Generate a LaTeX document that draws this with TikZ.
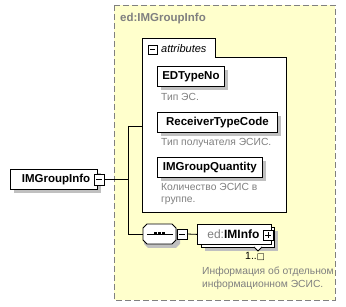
\documentclass[tikz,border=0pt]{standalone}
\usepackage{fontspec}
\setmainfont{Liberation Sans}
\newfontfamily\symfont{DejaVu Sans}
\begin{document}
\definecolor{paneYellow}{RGB}{255,255,204}
\definecolor{frameGray}{RGB}{128,128,128}
\definecolor{shadowGray}{RGB}{192,192,192}
\definecolor{noteGray}{RGB}{128,128,128}
\tikzset{
  elem/.style={draw=black, fill=white, line width=0.8pt, inner sep=0pt, anchor=north west,
    font=\fontsize{11.5}{12}\selectfont\bfseries, align=center},
  note/.style={anchor=north west, inner sep=0pt, text=noteGray,
    font=\fontsize{10.3}{12.5}\selectfont, align=left},
  wire/.style={draw=black, line width=0.8pt},
}
\begin{tikzpicture}[x=1pt,y=-1pt]
\useasboundingbox (0,0) rectangle (346,307);

% complex type pane
\draw[fill=paneYellow, draw=frameGray, line width=0.9pt, dash pattern=on 6pt off 3pt]
  (114,5) rectangle (335,300);
\node[anchor=west, inner sep=0pt, text=frameGray, font=\fontsize{11.5}{12}\selectfont\bfseries]
  (title) at (120,19) {ed:IMGroupInfo};

% attributes group
\draw[wire, fill=white] (142,212) -- (142,38) -- (215,38) -- (215,57) -- (286,57) -- (286,212) -- cycle;
\coordinate (attrL) at (142,126);
\fill[black] (149,46) rectangle (158,55);
\draw[fill=white, line width=0.8pt] (148,45) rectangle (157,54);
\draw[line width=0.9pt] (150,49.5) -- (155,49.5);
\node[anchor=west, inner sep=0pt, font=\fontsize{11}{12}\selectfont\itshape] (attrlbl) at (161,49) {attributes};

% attribute elements
\fill[shadowGray] (161,70) rectangle (228,90);
\node[elem, minimum width=67pt, minimum height=20pt] (edtype) at (157,66) {EDTypeNo};
\node[note] (n1) at (161,93) {Тип ЭС.};

\fill[shadowGray] (161,116) rectangle (281,136);
\node[elem, minimum width=120pt, minimum height=20pt] (recv) at (157,112) {ReceiverTypeCode};
\node[note] (n2) at (161,138) {Тип получателя ЭСИС.};

\fill[shadowGray] (161,161) rectangle (266,181);
\node[elem, minimum width=105pt, minimum height=20pt] (qty) at (157,157) {IMGroupQuantity};
\node[note] (n3) at (161,183) {Количество ЭСИС в\\группе.};

% root element
\fill[shadowGray] (14,173) rectangle (101,193);
\node[elem, minimum width=87pt, minimum height=20pt, text width=80pt, align=left]
  (root) at (10,169) {\hspace*{8pt}IMGroupInfo};
\fill[black] (95,175) rectangle (105,186);
\draw[fill=white, line width=0.8pt] (94,174) rectangle (104,185);
\draw[line width=0.9pt] (96,179.5) -- (102,179.5);
\coordinate (rootR) at (104,179.5);

% connectors from root
\coordinate (junctionTop) at (128,126);
\coordinate (junctionBot) at (128,234);
\coordinate (junctionMid) at (128,179.5);
\draw[wire] (rootR) -- (junctionMid);
\draw[wire] (junctionTop) -- (junctionBot);
\draw[wire] (junctionTop) -- (attrL);

% sequence compositor
\fill[shadowGray] (148,228) -- (176,228) -- (180,232) -- (180,244) -- (176,248) -- (148,248) -- (144,244) -- (144,232) -- cycle;
\draw[wire, fill=white] (147,224) -- (172,224) -- (176,228) -- (176,240) -- (172,244) -- (147,244) -- (143,240) -- (143,228) -- cycle;
\coordinate (seqL) at (143,234);
\draw[line width=0.9pt] (147,234) -- (173,234);
\foreach \dx in {155,159,163} \fill[black] (\dx-1.5,232.5) rectangle (\dx+1.5,235.5);
\draw[wire] (junctionBot) -- (seqL);
\fill[black] (178,230) rectangle (188,240);
\draw[fill=white, line width=0.8pt] (177,229) rectangle (187,239);
\draw[line width=0.9pt] (179,234) -- (185,234);
\coordinate (seqR) at (187,234);

% repeated element reference
\fill[shadowGray] (205,231) rectangle (278,251);
\draw[fill=white, line width=0.8pt] (201,227) rectangle (274,247);
\node[elem, minimum width=74pt, minimum height=20pt, text width=70pt, align=left,
  font=\fontsize{12}{12}\selectfont] (iminfo) at (197,224)
  {\hspace*{8pt}\textcolor{frameGray}{ed:}\textbf{IMInfo}};
\draw[wire] (seqR) -- (iminfo.west);
\draw[fill=white, line width=0.8pt] (254,247) -- (258,251) -- (262,247);
\fill[black] (264,231) rectangle (274,241);
\draw[fill=white, line width=0.8pt] (263,230) rectangle (273,240);
\draw[line width=0.9pt] (265,235) -- (271,235);
\draw[line width=0.9pt] (268,232) -- (268,238);
\node[anchor=north west, inner sep=0pt, font=\fontsize{10.5}{12}\selectfont] (mult) at (245,252)
  {1..{\symfont\fontsize{8.5}{10}\selectfont □}};
\node[note] (n4) at (202,267) {Информация об отдельном\\информационном ЭСИС.};
\end{tikzpicture}
\end{document}
